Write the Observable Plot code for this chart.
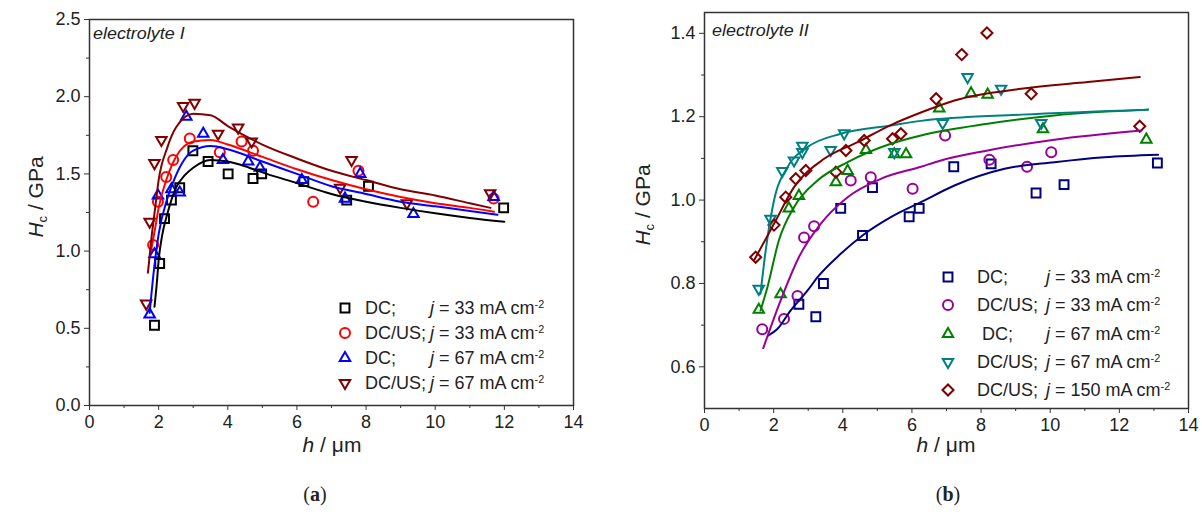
<!DOCTYPE html>
<html><head><meta charset="utf-8">
<script src="https://cdn.jsdelivr.net/npm/d3@7"></script>
<script src="https://cdn.jsdelivr.net/npm/@observablehq/plot@0.6"></script>
<style>
body{margin:0;background:#fff;}
#wrap{position:relative;width:1202px;height:520px;overflow:hidden;font-family:Arial,"Liberation Sans",sans-serif;color:#222;}
.abs{position:absolute;white-space:nowrap;line-height:1;}
sub{font-size:0.62em;vertical-align:-0.35em;line-height:0;}
sup{font-size:0.6em;vertical-align:0.6em;line-height:0;}
</style></head><body><div id="wrap"></div>
<script>
// ---------- Panel (a): electrolyte I ----------
const a_DC33 = [[1.88,0.52],[2.03,0.92],[2.17,1.21],[2.37,1.33],[2.61,1.41],[2.99,1.65],[3.43,1.58],[4.01,1.50],[4.73,1.47],[4.98,1.50],[6.2,1.45],[7.44,1.33],[8.07,1.42],[11.98,1.28]];
const a_DCUS33 = [[1.84,1.04],[1.98,1.32],[2.22,1.48],[2.42,1.59],[2.90,1.73],[3.77,1.64],[4.40,1.71],[4.73,1.65],[6.47,1.32],[7.78,1.52],[11.69,1.34]];
const a_DC67 = [[1.74,0.59],[1.88,0.98],[1.98,1.36],[2.37,1.40],[2.61,1.38],[2.80,1.87],[3.29,1.76],[3.86,1.59],[4.59,1.58],[4.93,1.54],[6.14,1.46],[7.39,1.34],[7.83,1.50],[9.37,1.24],[11.69,1.35]];
const a_DCUS67 = [[1.64,0.66],[1.74,1.19],[1.88,1.57],[2.08,1.72],[2.71,1.94],[3.04,1.96],[3.72,1.76],[4.30,1.80],[4.69,1.71],[7.25,1.41],[7.58,1.59],[9.18,1.31],[11.59,1.375]];
const a_DC33_fit = [[1.88,0.64],[1.95,0.80],[2.0,0.94],[2.1,1.10],[2.25,1.24],[2.5,1.41],[2.75,1.49],[3,1.54],[3.5,1.59],[4,1.58],[4.5,1.55],[5,1.51],[6,1.44],[7,1.37],[8,1.32],[9,1.28],[10,1.245],[11,1.215],[12.0,1.19]];
const a_DCUS33_fit = [[1.78,1.0],[1.9,1.15],[2.0,1.28],[2.25,1.48],[2.5,1.61],[3,1.71],[3.5,1.72],[4,1.69],[5,1.61],[6,1.53],[7,1.46],[8,1.40],[9,1.35],[10,1.31],[11,1.28],[11.7,1.255]];
const a_DC67_fit = [[1.74,0.60],[1.85,0.85],[2.0,1.11],[2.25,1.34],[2.5,1.49],[3,1.65],[3.5,1.68],[4,1.66],[5,1.58],[6,1.50],[7,1.42],[8,1.37],[9,1.32],[10,1.29],[11,1.26],[11.8,1.235]];
const a_DCUS67_fit = [[1.69,0.86],[1.8,1.10],[1.9,1.28],[2.0,1.46],[2.25,1.67],[2.5,1.80],[3,1.89],[3.5,1.88],[4,1.81],[5,1.69],[6,1.60],[7,1.52],[8,1.46],[9,1.40],[10,1.36],[11,1.31],[11.6,1.28]];

// ---------- Panel (b): electrolyte II ----------
const b_DC33 = [[2.73,0.75],[3.22,0.72],[3.44,0.80],[3.94,0.98],[4.57,0.915],[4.86,1.03],[5.92,0.96],[6.21,0.98],[7.21,1.08],[8.29,1.087],[9.59,1.017],[10.40,1.037],[13.10,1.089]];
const b_DCUS33 = [[1.67,0.69],[2.30,0.715],[2.69,0.77],[2.88,0.91],[3.17,0.937],[4.23,1.047],[4.81,1.055],[6.02,1.027],[6.96,1.155],[8.24,1.097],[9.33,1.08],[10.03,1.115]];
const b_DC67 = [[1.57,0.737],[2.20,0.774],[2.44,0.98],[2.73,1.01],[3.80,1.043],[4.14,1.07],[4.67,1.12],[5.49,1.11],[5.83,1.11],[6.79,1.22],[7.71,1.256],[8.19,1.253],[9.79,1.17],[12.78,1.145]];
const b_DCUS67 = [[1.57,0.787],[1.91,0.955],[2.25,1.07],[2.59,1.095],[2.83,1.13],[2.83,1.115],[3.65,1.12],[4.04,1.16],[5.49,1.115],[6.89,1.185],[7.61,1.295],[8.58,1.267],[9.74,1.185]];
const b_DCUS150 = [[1.48,0.863],[2.01,0.94],[2.35,1.007],[2.64,1.051],[2.93,1.071],[3.80,1.067],[4.09,1.119],[4.62,1.143],[5.44,1.147],[5.68,1.159],[6.70,1.243],[7.44,1.349],[8.17,1.401],[9.45,1.255],[12.59,1.177]];
const b_DC33_fit = [[1.84,0.675],[2.1,0.69],[2.49,0.735],[3.0,0.785],[3.27,0.815],[3.94,0.871],[4.57,0.915],[5.39,0.959],[6.26,0.995],[7.23,1.035],[8.68,1.075],[10.12,1.091],[11.57,1.103],[13.12,1.109]];
const b_DCUS33_fit = [[1.7,0.645],[2.2,0.759],[2.73,0.863],[3.36,0.943],[4.14,1.007],[5.10,1.051],[6.26,1.08],[6.84,1.095],[8.19,1.119],[10.12,1.145],[12.64,1.167]];
const b_DC67_fit = [[1.62,0.735],[1.82,0.791],[2.15,0.903],[2.59,0.983],[3.27,1.047],[4.14,1.091],[5.39,1.135],[6.26,1.155],[8.19,1.183],[10.12,1.203],[12.83,1.217]];
const b_DCUS67_fit = [[1.62,0.775],[1.77,0.879],[2.01,0.999],[2.40,1.079],[2.98,1.127],[3.94,1.159],[5.39,1.179],[6.26,1.19],[9.16,1.205],[12.83,1.217]];
const b_DCUS150_fit = [[1.43,0.855],[2.01,0.943],[2.59,1.031],[3.46,1.099],[4.43,1.139],[5.39,1.18],[6.26,1.21],[7.23,1.239],[9.16,1.267],[11.09,1.283],[12.59,1.295]];

// tick values
const xMajor = [0,2,4,6,8,10,12,14];
const xMinor = [1,3,5,7,9,11,13];
const aYMajor = [0,0.5,1.0,1.5,2.0,2.5];
const aYMinor = [0.25,0.75,1.25,1.75,2.25];
const bYMajor = [0.6,0.8,1.0,1.2,1.4];
const bYMinor = [0.7,0.9,1.1,1.3];

// labels
const aLegendLabels = ["DC;","DC/US;","DC;","DC/US;"];
const aLegendJ = ["33","33","67","67"];
const bLegendLabels = ["DC;","DC/US;","\u00a0DC;","DC/US;","DC/US;"];
const bLegendJ = ["33","33","67","67","150"];

const triangleDown = {
  draw(context, size) {
    const s = Math.sqrt(size) * 0.6824, t = s / 2, u = s * Math.sqrt(3) / 2;
    context.moveTo(0, s); context.lineTo(u, -t); context.lineTo(-u, -t); context.closePath();
  }
};

const aSeries = [
  {pts:a_DC33, fit:a_DC33_fit, color:"#000000", symbol:d3.symbolSquare},
  {pts:a_DCUS33, fit:a_DCUS33_fit, color:"#ff0000", symbol:d3.symbolCircle},
  {pts:a_DC67, fit:a_DC67_fit, color:"#0000ff", symbol:d3.symbolTriangle2},
  {pts:a_DCUS67, fit:a_DCUS67_fit, color:"#800000", symbol:triangleDown}
];
const bSeries = [
  {pts:b_DC33, fit:b_DC33_fit, color:"#000080", symbol:d3.symbolSquare},
  {pts:b_DCUS33, fit:b_DCUS33_fit, color:"#990099", symbol:d3.symbolCircle},
  {pts:b_DC67, fit:b_DC67_fit, color:"#008000", symbol:d3.symbolTriangle2},
  {pts:b_DCUS67, fit:b_DCUS67_fit, color:"#008080", symbol:triangleDown},
  {pts:b_DCUS150, fit:b_DCUS150_fit, color:"#800000", symbol:d3.symbolDiamond2}
];

const R = 5;
const wrap = document.getElementById("wrap");

function makePanel({series, yDomain, yMajor, yMinor, width, mL, mR, mT, mB}) {
  const marks = [];
  for (const s of series) {
    marks.push(Plot.dot(s.pts, {x: d => d[0], y: d => d[1], symbol: s.symbol, r: R, stroke: s.color, strokeWidth: 2, fill: "none"}));
  }
  for (const s of series) {
    marks.push(Plot.line(s.fit, {x: d => d[0], y: d => d[1], stroke: s.color, strokeWidth: 2, curve: "monotone-x"}));
  }
  marks.push(
    Plot.axisX(xMajor, {tickSize: 5, tickPadding: 5, tickFormat: d => String(d), label: null, stroke: "#333"}),
    Plot.axisX(xMinor, {tickSize: 3, tickFormat: () => "", label: null, stroke: "#333"}),
    Plot.axisY(yMajor, {tickSize: 5, tickPadding: 4, tickFormat: d3.format(".1f"), label: null, stroke: "#333"}),
    Plot.axisY(yMinor, {tickSize: 3, tickFormat: () => "", label: null, stroke: "#333"}),
    Plot.frame({stroke: "#333", strokeWidth: 1.5})
  );
  return Plot.plot({
    width, height: 520,
    marginLeft: mL, marginRight: mR, marginTop: mT, marginBottom: mB,
    x: {domain: [0, 14]},
    y: {domain: yDomain},
    style: {fontFamily: 'Arial, "Liberation Sans", sans-serif', fontSize: "18px", color: "#222", background: "transparent", overflow: "visible"},
    marks
  });
}

const pa = makePanel({series: aSeries, yDomain: [0, 2.5], yMajor: aYMajor, yMinor: aYMinor, width: 600, mL: 89, mR: 27, mT: 19, mB: 115});
pa.style.position = "absolute"; pa.style.left = "0px"; pa.style.top = "0px";
wrap.appendChild(pa);

const pb = makePanel({series: bSeries, yDomain: [0.5, 1.45], yMajor: bYMajor, yMinor: bYMinor, width: 602, mL: 104, mR: 14, mT: 12, mB: 112});
pb.style.position = "absolute"; pb.style.left = "600px"; pb.style.top = "0px";
wrap.appendChild(pb);

function addText(html, x, y, css, anchor) {
  const d = document.createElement("div");
  d.className = "abs";
  d.innerHTML = html;
  d.style.left = x + "px"; d.style.top = y + "px";
  d.style.transform = anchor || "translate(-50%,-50%)";
  Object.assign(d.style, css || {});
  wrap.appendChild(d);
  return d;
}

// axis titles
const yTitle = '<i>H</i><sub>c</sub> / GPa';
addText(yTitle, 35, 197, {fontSize: "21px"}, "translate(-50%,-50%) rotate(-90deg)");
addText(yTitle, 642, 205, {fontSize: "21px"}, "translate(-50%,-50%) rotate(-90deg)");
const xTitle = '<i>h</i> / \u03bcm';
addText(xTitle, 332, 444, {fontSize: "21px"});
addText(xTitle, 946, 444, {fontSize: "21px"});
addText('(<b>a</b>)', 315, 494, {fontSize: "20px", fontFamily: '"Liberation Serif","DejaVu Serif",serif'});
addText('(<b>b</b>)', 948, 494, {fontSize: "20px", fontFamily: '"Liberation Serif","DejaVu Serif",serif'});
const e1 = addText('electrolyte I', 93, 34, {fontSize: "16px", fontStyle: "italic", transformOrigin: "left center"}, "translate(0,-50%) scaleX(1.12)");
const e2 = addText('electrolyte II', 712, 31, {fontSize: "16px", fontStyle: "italic", transformOrigin: "left center"}, "translate(0,-50%) scaleX(1.12)");

// legends
function legend(series, labels, js, symX, labX, jX, y0, dy) {
  series.forEach((s, i) => {
    const y = y0 + i * dy;
    const path = d3.symbol(s.symbol, Math.PI * R * R)();
    const svg = `<svg width="16" height="16" viewBox="-8 -8 16 16" style="display:block"><path d="${path}" fill="none" stroke="${s.color}" stroke-width="2"/></svg>`;
    addText(svg, symX, y, {});
    addText(labels[i], labX, y, {fontSize: "18px"}, "translate(0,-50%)");
    addText(`<i>j</i> = ${js[i]} mA cm<sup>-2</sup>`, jX, y, {fontSize: "18px"}, "translate(0,-50%)");
  });
}
legend(aSeries, aLegendLabels, aLegendJ, 345, 365, 430, 308, 25);
legend(bSeries, bLegendLabels, bLegendJ, 948, 977, 1046, 277, 28.3);
</script></body></html>
